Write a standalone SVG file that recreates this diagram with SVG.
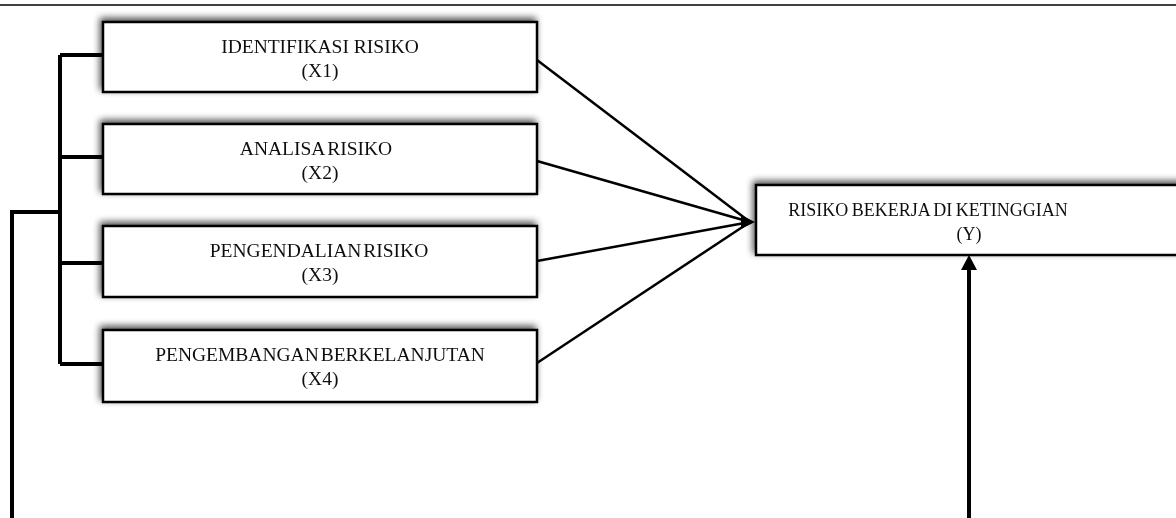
<svg xmlns="http://www.w3.org/2000/svg" width="1176" height="518" viewBox="0 0 1176 518">
<defs>
<filter id="sh" x="-10%" y="-30%" width="120%" height="160%">
<feGaussianBlur in="SourceAlpha" stdDeviation="3.5"/>
<feOffset dx="-2" dy="-3" result="b"/>
<feComponentTransfer><feFuncA type="linear" slope="0.7"/></feComponentTransfer>
<feMerge><feMergeNode/><feMergeNode in="SourceGraphic"/></feMerge>
</filter>
</defs>
<style>
.box{fill:#fff;stroke:#000;stroke-width:2.5}
.t{font-family:"Liberation Serif","Times New Roman",serif;font-size:19.5px;fill:#111;text-anchor:middle}
.ty{font-size:18px}
.br{fill:none;stroke:#000;stroke-width:4;stroke-linejoin:miter}
.ln{fill:none;stroke:#000;stroke-width:2.5}
</style>
<rect width="1176" height="518" fill="#fff"/>
<line x1="0" y1="5" x2="1176" y2="5" stroke="#000" stroke-width="1.5"/>
<g id="connectors">
<path class="br" d="M12,518 V212 H60"/>
<path class="br" d="M60,55 V364"/>
<path class="br" d="M60,55 H103 M60,157 H103 M60,263 H103 M60,364 H103"/>
<line class="ln" x1="537" y1="60" x2="750" y2="222"/>
<line class="ln" x1="537" y1="161" x2="750" y2="222"/>
<line class="ln" x1="537" y1="261" x2="750" y2="222"/>
<line class="ln" x1="537" y1="363" x2="750" y2="222"/>
<path d="M741,215 L755,222 L741,229 z" fill="#000"/>
<line x1="969" y1="518" x2="969" y2="268" stroke="#000" stroke-width="4"/>
<path d="M961,270 L969,255 L977,270 z" fill="#000"/>
</g>
<g id="x1" filter="url(#sh)">
<rect class="box" x="103" y="22" width="434" height="70"/>
<text class="t" x="320" y="53">IDENTIFIKASI RISIKO</text>
<text class="t" x="320" y="77">(X1)</text>
</g>
<g id="x2" filter="url(#sh)">
<rect class="box" x="103" y="124" width="434" height="70"/>
<text class="t" x="316" y="155" word-spacing="-2">ANALISA RISIKO</text>
<text class="t" x="320" y="179">(X2)</text>
</g>
<g id="x3" filter="url(#sh)">
<rect class="box" x="103" y="226" width="434" height="71"/>
<text class="t" x="319" y="257" word-spacing="-3">PENGENDALIAN RISIKO</text>
<text class="t" x="320" y="281">(X3)</text>
</g>
<g id="x4" filter="url(#sh)">
<rect class="box" x="103" y="330" width="434" height="72"/>
<text class="t" x="320" y="361" word-spacing="-3">PENGEMBANGAN BERKELANJUTAN</text>
<text class="t" x="320" y="385">(X4)</text>
</g>
<g id="y" filter="url(#sh)">
<rect class="box" x="756" y="185" width="434" height="70"/>
<text class="t ty" x="928" y="216" word-spacing="-1">RISIKO BEKERJA DI KETINGGIAN</text>
<text class="t ty" x="969" y="240">(Y)</text>
</g>
</svg>
